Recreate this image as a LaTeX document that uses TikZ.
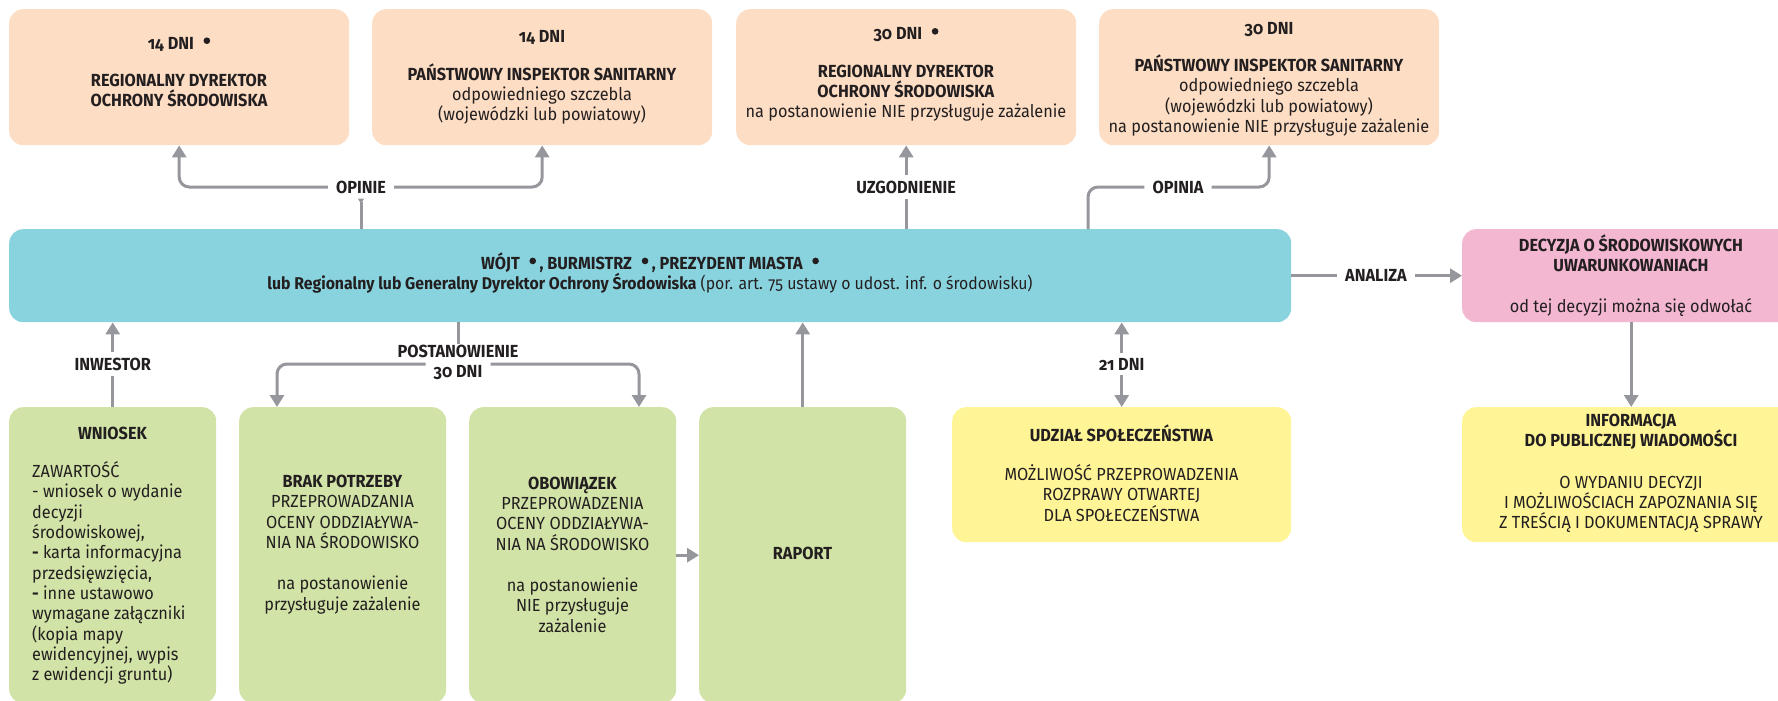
\documentclass[tikz,border=0pt]{standalone}
\usepackage{fontspec}
\usepackage{graphicx}
\setmainfont{Fira Sans}[Numbers=OldStyle,FakeStretch=0.93]
\usetikzlibrary{arrows.meta}

\definecolor{peach}{RGB}{253,221,195}
\definecolor{cyanbox}{RGB}{137,211,222}
\definecolor{pinkbox}{RGB}{243,183,209}
\definecolor{greenbox}{RGB}{209,227,166}
\definecolor{yellowbox}{RGB}{255,245,150}
\definecolor{ink}{RGB}{35,31,32}
\definecolor{linegray}{RGB}{150,151,156}

% raised dot marking the offices
\newcommand\bul{\hspace{0.55em}\tikz[baseline=0pt]\fill[ink] (0pt,0.48em) circle[radius=0.19em];\hspace{0.2em}}
\newcommand\fsz{\fontsize{17.5}{20.3}\selectfont}
\newcommand\fszs{\fontsize{17}{20.3}\selectfont}

\tikzset{
  box/.style={rounded corners=14pt, inner sep=0pt, anchor=north west, draw=none},
  txt/.style={inner sep=0pt, align=center, text=ink, font=\fsz},
  lbl/.style={inner xsep=8pt, inner ysep=5pt, text=ink, font=\fsz\bfseries},
  conn/.style={draw=linegray, line width=3pt},
  arr/.style={conn, -{Triangle[width=14pt,length=12pt]}},
}

\begin{document}
\begin{tikzpicture}[x=1pt,y=-1pt]
\useasboundingbox (0,0) rectangle (1778,701);
\clip (0,0) rectangle (1778,701);

% ---- boxes ----
\node[box, fill=peach, minimum width=340pt, minimum height=136pt] (b1) at (9,9) {};
\node[box, fill=peach, minimum width=340pt, minimum height=136pt] (b2) at (372,9) {};
\node[box, fill=peach, minimum width=340pt, minimum height=136pt] (b3) at (736,9) {};
\node[box, fill=peach, minimum width=340pt, minimum height=136pt] (b4) at (1099,9) {};

\node[box, fill=cyanbox, minimum width=1282pt, minimum height=93pt] (blue) at (9,229) {};
\node[box, fill=pinkbox, minimum width=338pt, minimum height=93pt] (pink) at (1462,229) {};

\node[box, fill=greenbox, minimum width=207pt, minimum height=296pt] (wniosek) at (9,407) {};
\node[box, fill=greenbox, minimum width=207pt, minimum height=296pt] (brak) at (239,407) {};
\node[box, fill=greenbox, minimum width=207pt, minimum height=296pt] (obow) at (469,407) {};
\node[box, fill=greenbox, minimum width=207pt, minimum height=296pt] (raport) at (699,407) {};

\node[box, fill=yellowbox, minimum width=339pt, minimum height=135pt] (udzial) at (952,407) {};
\node[box, fill=yellowbox, minimum width=338pt, minimum height=135pt] (info) at (1462,407) {};

% ---- box texts ----
\node[txt, font=\fsz\bfseries] (t1) at (179,72)
  {14 DNI\bul\\[17pt]REGIONALNY DYREKTOR\\OCHRONY ŚRODOWISKA};
\node[txt] (t2) at (542,77.5)
  {\textbf{14 DNI}\\[17pt]\textbf{PAŃSTWOWY INSPEKTOR SANITARNY}\\odpowiedniego szczebla\\(wojewódzki lub powiatowy)};
\node[txt] (t3) at (906,74.5)
  {\textbf{30 DNI\bul}\\[17pt]\textbf{REGIONALNY DYREKTOR}\\\textbf{OCHRONY ŚRODOWISKA}\\na postanowienie NIE przysługuje zażalenie};
\node[txt] (t4) at (1269,79)
  {\textbf{30 DNI}\\[17pt]\textbf{PAŃSTWOWY INSPEKTOR SANITARNY}\\odpowiedniego szczebla\\(wojewódzki lub powiatowy)\\na postanowienie NIE przysługuje zażalenie};

\node[txt] (tblue) at (650,273)
  {\textbf{WÓJT\bul, BURMISTRZ\bul, PREZYDENT MIASTA\bul}\\{\fszs\textbf{lub Regionalny lub Generalny Dyrektor Ochrony Środowiska} (por. art. 75 ustawy o udost. inf. o środowisku)}};
\node[txt] (tpink) at (1631,275.5)
  {\textbf{DECYZJA O ŚRODOWISKOWYCH}\\\textbf{UWARUNKOWANIACH}\\[21pt]od tej decyzji można się odwołać};

\node[txt, font=\fsz\bfseries] (twn) at (112.5,433) {WNIOSEK};
\node[txt, align=left, anchor=west] (twnbody) at (32,573)
  {ZAWARTOŚĆ\\- wniosek o wydanie\\decyzji\\środowiskowej,\\\textbf{-} karta informacyjna\\przedsięwzięcia,\\\textbf{-} inne ustawowo\\wymagane załączniki\\(kopia mapy\\ewidencyjnej, wypis\\z ewidencji gruntu)};
\node[txt] (tbrak) at (342.5,544.5)
  {\textbf{BRAK POTRZEBY}\\PRZEPROWADZANIA\\OCENY ODDZIAŁYWA-\\NIA NA ŚRODOWISKO\\[21pt]na postanowienie\\przysługuje zażalenie};
\node[txt] (tobow) at (572.5,554.5)
  {\textbf{OBOWIĄZEK}\\PRZEPROWADZENIA\\OCENY ODDZIAŁYWA-\\NIA NA ŚRODOWISKO\\[21pt]na postanowienie\\NIE przysługuje\\zażalenie};
\node[txt, font=\fsz\bfseries] (trap) at (802.5,553) {RAPORT};

\node[txt] (tudz) at (1121.5,473)
  {\textbf{UDZIAŁ SPOŁECZEŃSTWA}\\[19pt]MOŻLIWOŚĆ PRZEPROWADZENIA\\ROZPRAWY OTWARTEJ\\DLA SPOŁECZEŃSTWA};
\node[txt] (tinfo) at (1631,473.5)
  {\textbf{INFORMACJA}\\\textbf{DO PUBLICZNEJ WIADOMOŚCI}\\[21pt]O WYDANIU DECYZJI\\I MOŻLIWOŚCIACH ZAPOZNANIA SIĘ\\Z TREŚCIĄ I DOKUMENTACJĄ SPRAWY};

% ---- connector labels ----
\coordinate (opx) at (361,187);
\coordinate (opa) at (1088,0);
\coordinate (anx) at (1376,0);
\coordinate (bin) at (277,0);
\coordinate (oin) at (639,0);
\coordinate (pj) at (458,364);

\node[lbl] (opinie) at (opx) {OPINIE};
\node[lbl] (uzg) at (b3.south |- opx) {UZGODNIENIE};
\node[lbl] (opinia) at (1178,187) {OPINIA};
\node[lbl] (analiza) at (blue.east -| anx) {ANALIZA};
\node[lbl] (d21) at (udzial.north |- pj) {21 DNI};
\node[lbl] (inw) at (wniosek.north |- pj) {INWESTOR};
\node[txt, font=\fsz\bfseries] (post) at (458,351) {POSTANOWIENIE};
\node[lbl] (d30) at (458,373) {30 DNI};

% ---- connectors ----
\draw[conn, {Triangle[reversed,width=6pt,length=5pt]}-] (opinie.south) -- (blue.north -| opinie);
\draw[arr, rounded corners=10pt] (opinie.west) -| (b1.south);
\draw[arr, rounded corners=10pt] (opinie.east) -| (b2.south);

\draw[conn] (blue.north -| uzg) -- (uzg.south);
\draw[arr] (uzg.north) -- (b3.south);

\draw[conn, rounded corners=10pt] (blue.north -| opa) |- (opinia.west);
\draw[arr, rounded corners=10pt] (opinia.east) -| (b4.south);

\draw[conn] (blue.east) -- (analiza.west);
\draw[arr] (analiza.east) -- (pink.west);
\draw[arr] (pink.south) -- (info.north);

\draw[arr] (d21.north) -- (blue.south -| d21);
\draw[arr] (d21.south) -- (udzial.north);

\draw[conn] (wniosek.north) -- (inw.south);
\draw[arr] (inw.north) -- (blue.south -| inw);

\draw[conn] (blue.south -| post) -- (post.north);
\draw[arr, rounded corners=10pt] (pj -| d30.west) -| (brak.north -| bin);
\draw[arr, rounded corners=10pt] (pj -| d30.east) -| (obow.north -| oin);

\draw[arr] (raport.north) -- (blue.south -| raport.north);
\draw[arr] (obow.east) -- (raport.west);
\end{tikzpicture}
\end{document}
